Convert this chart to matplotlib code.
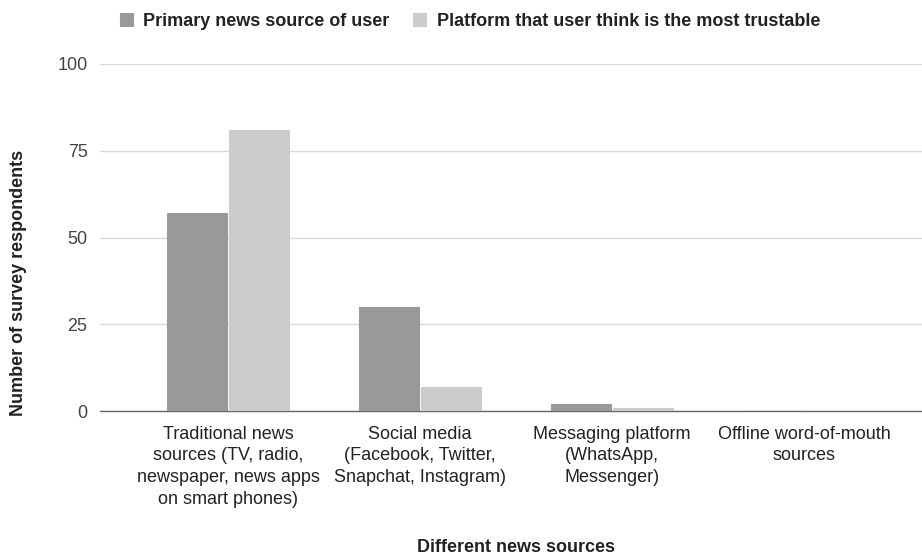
import matplotlib
matplotlib.use("Agg")
import matplotlib.pyplot as plt
import numpy as np

plt.rcParams['font.family'] = ['Liberation Sans', 'DejaVu Sans']

categories = [
    "Traditional news\nsources (TV, radio,\nnewspaper, news apps\non smart phones)",
    "Social media\n(Facebook, Twitter,\nSnapchat, Instagram)",
    "Messaging platform\n(WhatsApp,\nMessenger)",
    "Offline word-of-mouth\nsources",
]
series_names = ["Primary news source of user",
                "Platform that user think is the most trustable"]
primary_source = [57, 30, 2, 0]
most_trusted = [81, 7, 1, 0]
y_ticks = [0, 25, 50, 75, 100]

colors = ["#999999", "#cccccc"]

fig = plt.figure(figsize=(9.22, 5.56), dpi=100)
ax = fig.add_axes([100 / 922, 1 - 411 / 556, 822 / 922, 347 / 556])

x = np.arange(len(categories))
width = 0.3125
offset = width / 2 + 0.006
for vals, dx, col, name in zip([primary_source, most_trusted], [-offset, offset],
                               colors, series_names):
    ax.bar(x + dx, vals, width=width, color=col, edgecolor=col, linewidth=0.8,
           label=name, zorder=3)

ax.set_xlim((100 - 228) / 192, (922 - 228) / 192)
ax.set_ylim(0, 100)
ax.set_yticks(y_ticks)
ax.set_yticklabels([str(t) for t in y_ticks], fontsize=13, color="#444444")
ax.set_xticks(x)
ax.set_xticklabels(categories, fontsize=13, color="#222222", linespacing=1.36)
ax.tick_params(axis="both", length=0)
ax.tick_params(axis="y", pad=9)
ax.tick_params(axis="x", pad=10.5)

ax.grid(axis="y", color="#d9d9d9", linewidth=1, zorder=0)
ax.set_axisbelow(True)
for s in ["top", "right", "left"]:
    ax.spines[s].set_visible(False)
ax.spines["bottom"].set_color("#666666")
ax.spines["bottom"].set_linewidth(1)
ax.spines["bottom"].set_zorder(2)

fig.text(19 / 922, 1 - 283 / 556, "Number of survey respondents", rotation=90,
         fontsize=13, fontweight="bold", color="#222222", ha="center", va="center")
fig.text(516 / 922, 1 - 548 / 556, "Different news sources",
         fontsize=13, fontweight="bold", color="#222222", ha="center", va="center")

fig.legend(loc="center", bbox_to_anchor=(470 / 922, 1 - 21 / 556), ncol=2,
           frameon=False, prop={"size": 13, "weight": "bold"},
           handlelength=0.7, handleheight=0.7, handletextpad=0.6,
           columnspacing=1.3, labelcolor="#222222")

fig.savefig("out.png", dpi=100)
